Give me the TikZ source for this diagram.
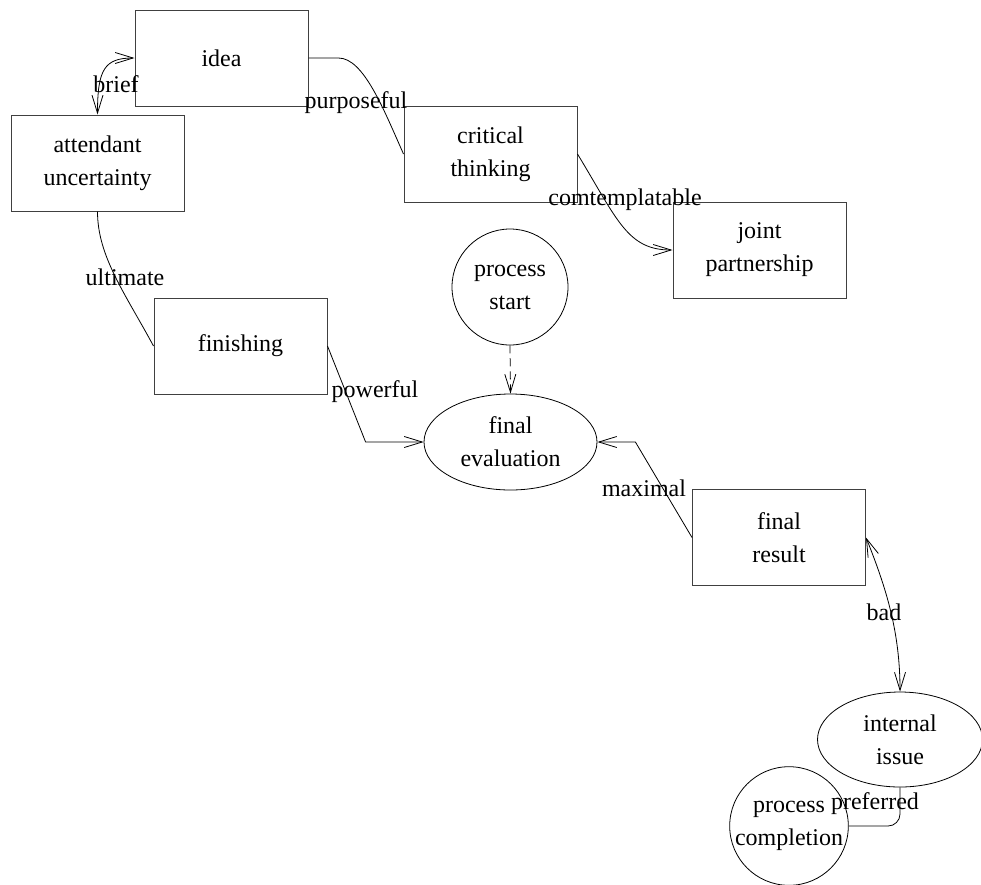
\documentclass[tikz,border=0pt]{standalone}
\usepackage{fontspec}
\setmainfont{Liberation Serif}
\usetikzlibrary{arrows.meta,shapes.geometric,calc}
\begin{document}
\begin{tikzpicture}[x=1pt,y=-1pt,
  every node/.style={font=\fontsize{24}{33}\selectfont, align=center, inner sep=0pt},
  box/.style={draw=black!75, line width=1pt, rectangle, minimum width=173pt, minimum height=96pt},
  ell/.style={draw, line width=0.8pt, ellipse, minimum width=173pt, minimum height=96pt},
  circ/.style={draw, line width=0.8pt, circle, minimum size=116pt},
  edge/.style={draw, line width=0.8pt},
  lbl/.style={},
  >={Straight Barb[length=18pt,width=11pt,line width=0.8pt]}]
\useasboundingbox (0,0) rectangle (981,884);
\node[box] (idea) at (221.5,58) {idea};
\node[box] (au) at (97.5,163) {attendant\\uncertainty};
\node[box] (ct) at (490.5,154) {critical\\thinking};
\node[box] (jp) at (759.5,250) {joint\\partnership};
\node[box] (fin) at (240.5,346) {finishing};
\node[circ] (ps) at (510,287) {process\\start};
\node[ell] (fe) at (510.5,442) {final\\evaluation};
\node[box] (fr) at (779,537.5) {final\\result};
\node[ell, minimum width=165pt, minimum height=95pt] (ii) at (900,739.5) {internal\\issue};
\node[circ] (pc) at (789,826) {process\\completion};

\path[edge,<->] (au.north) .. controls +(0,-45) and +(-30,0) .. (idea.west);
\path[edge] (idea.east) -- ++(30,0) .. controls +(25,0) and +(-20,-45) .. (ct.west);
\path[edge,->] (ct.east) .. controls +(40,66) and +(-45,0) .. (jp.west);
\path[edge] (au.south) .. controls +(0,45) and +(-28,-52) .. (fin.west);
\path[edge,->] (fin.east) -- ($(fe.west)+(-58,0)$) -- (fe.west);
\path[edge,->,dashed,dash pattern=on 8pt off 5pt] (ps.south) -- (fe.north);
\path[edge,->] (fr.west) -- ($(fe.east)+(38,0)$) -- (fe.east);
\path[edge,<->] (fr.east) .. controls +(20,50) and +(0,-60) .. (ii.north);
\path[edge,rounded corners=12pt] (ii.south) |- (pc.east);

\node[lbl] (lbrief) at (116,84) {brief};
\node[lbl] (lpurp) at (356,103) {purposeful};
\node[lbl] (lcont) at (625,200) {comtemplatable};
\node[lbl] (lult) at (125,277) {ultimate};
\node[lbl] (lpow) at (375,392) {powerful};
\node[lbl] (lmax) at (644,488) {maximal};
\node[lbl] (lbad) at (884,612) {bad};
\node[lbl] (lpref) at (875,804) {preferred};
\end{tikzpicture}
\end{document}
